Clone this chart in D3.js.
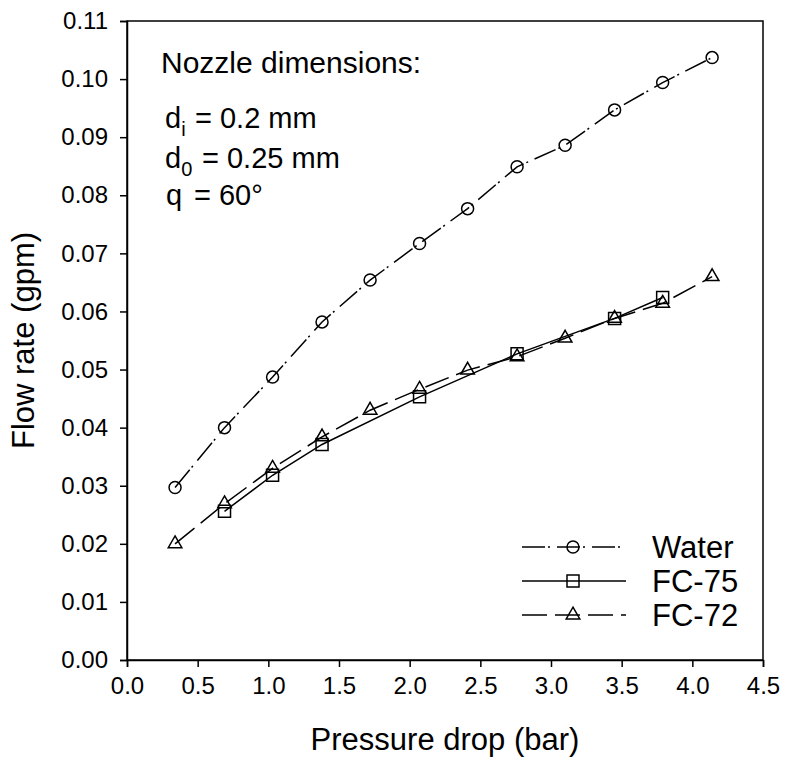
<!DOCTYPE html>
<html>
<head>
<meta charset="utf-8">
<script src="https://cdn.jsdelivr.net/npm/d3@7"></script>
<style>
  body { margin: 0; background: #fff; }
  svg { font-family: "Liberation Sans", Arial, sans-serif; }
</style>
</head>
<body>
<div id="chart"></div>
<script>
// pressure drop (bar) for each test point
const pressure = [0.34, 0.69, 1.03, 1.38, 1.72, 2.07, 2.41, 2.76, 3.10, 3.45, 3.79, 4.14];

const water = [0.0297, 0.0400, 0.0487, 0.0582, 0.0654, 0.0717, 0.0777, 0.0849, 0.0886, 0.0947, 0.0994, 0.1037];
const fc75x = [0.69, 1.03, 1.38, 2.07, 2.76, 3.45, 3.79];
const fc75 = [0.0256, 0.0318, 0.0371, 0.0453, 0.0527, 0.0588, 0.0624];
const fc72 = [0.0200, 0.0269, 0.0330, 0.0384, 0.0430, 0.0466, 0.0499, 0.0522, 0.0554, 0.0588, 0.0614, 0.0660];

const xTicks = d3.range(0, 4.51, 0.5);
const yTicks = d3.range(0, 0.1101, 0.01);

const width = 785, height = 764;
const margin = {top: 21, right: 22, bottom: 104, left: 127};

const x = d3.scaleLinear().domain([0, 4.5]).range([margin.left, width - margin.right]);
const y = d3.scaleLinear().domain([0, 0.11]).range([height - margin.bottom, margin.top]);

const series = [
  {name: "Water", xs: pressure, ys: water, dash: "23,3,2,7", symbol: d3.symbolCircle, size: 113},
  {name: "FC-75", xs: fc75x, ys: fc75, dash: null, symbol: d3.symbolSquare, size: 144},
  {name: "FC-72", xs: pressure, ys: fc72, dash: "25,8", symbol: d3.symbolTriangle, size: 80}
];

const svg = d3.select("#chart").append("svg")
    .attr("width", width)
    .attr("height", height);

// frame
svg.append("rect")
    .attr("x", x(0))
    .attr("y", y(0.11))
    .attr("width", x(4.5) - x(0))
    .attr("height", y(0) - y(0.11))
    .attr("fill", "none")
    .attr("stroke", "#000")
    .attr("stroke-width", 1.5);

svg.append("g")
    .attr("transform", `translate(0,${y(0)})`)
    .call(d3.axisBottom(x).tickValues(xTicks).tickFormat(d3.format(".1f")).tickSize(7).tickPadding(10))
    .call(g => g.select(".domain").attr("stroke-width", 1.5))
    .call(g => g.selectAll(".tick line").attr("stroke-width", 1.5))
    .call(g => g.selectAll("text").attr("font-size", 24).attr("fill", "#000"));

svg.append("g")
    .attr("transform", `translate(${x(0)},0)`)
    .call(d3.axisLeft(y).tickValues(yTicks).tickFormat(d3.format(".2f")).tickSize(7).tickPadding(12))
    .call(g => g.select(".domain").attr("stroke-width", 1.5))
    .call(g => g.selectAll(".tick line").attr("stroke-width", 1.5))
    .call(g => g.selectAll("text").attr("font-size", 24).attr("fill", "#000"));

svg.append("text")
    .attr("x", (x(0) + x(4.5)) / 2)
    .attr("y", 750)
    .attr("text-anchor", "middle")
    .attr("font-size", 31)
    .text("Pressure drop (bar)");

svg.append("text")
    .attr("transform", `translate(34,${(y(0) + y(0.11)) / 2}) rotate(-90)`)
    .attr("text-anchor", "middle")
    .attr("font-size", 31)
    .text("Flow rate (gpm)");

const line = d3.line();

series.forEach(s => {
  const pts = s.xs.map((v, i) => [x(v), y(s.ys[i])]);
  svg.append("path")
      .attr("d", line(pts))
      .attr("fill", "none")
      .attr("stroke", "#000")
      .attr("stroke-width", 1.5)
      .attr("stroke-dasharray", s.dash);
  svg.append("g")
    .selectAll("path")
    .data(pts)
    .join("path")
      .attr("transform", d => `translate(${d[0]},${d[1]})`)
      .attr("d", d3.symbol(s.symbol, s.size))
      .attr("fill", "none")
      .attr("stroke", "#000")
      .attr("stroke-width", 1.5);
});

// legend
const legend = svg.append("g")
    .selectAll("g")
    .data(series)
    .join("g")
      .attr("transform", (d, i) => `translate(522,${547 + i * 34})`);

legend.append("line")
    .attr("x2", 104)
    .attr("stroke", "#000")
    .attr("stroke-width", 1.5)
    .attr("stroke-dasharray", d => d.dash);

legend.append("path")
    .attr("transform", "translate(51,0)")
    .attr("d", d => d3.symbol(d.symbol, d.size)())
    .attr("fill", "none")
    .attr("stroke", "#000")
    .attr("stroke-width", 1.5);

legend.append("text")
    .attr("x", 130)
    .attr("dy", "0.35em")
    .attr("font-size", 31)
    .text(d => d.name);

// nozzle annotation
const note = svg.append("g").attr("font-size", 29);

note.append("text")
    .attr("x", 161)
    .attr("y", 73)
    .attr("font-size", 30)
    .text("Nozzle dimensions:");

const di = note.append("text").attr("x", 165).attr("y", 128);
di.append("tspan").text("d");
di.append("tspan").attr("font-size", 20).attr("dy", 8).text("i");
di.append("tspan").attr("x", 195).attr("dy", -8).text("= 0.2 mm");

const d0 = note.append("text").attr("x", 165).attr("y", 168);
d0.append("tspan").text("d");
d0.append("tspan").attr("font-size", 20).attr("dy", 8).text("0");
d0.append("tspan").attr("x", 202).attr("dy", -8).text("= 0.25 mm");

const q = note.append("text").attr("x", 166).attr("y", 205);
q.append("tspan").text("q");
q.append("tspan").attr("x", 194).text("= 60°");
</script>
</body>
</html>
